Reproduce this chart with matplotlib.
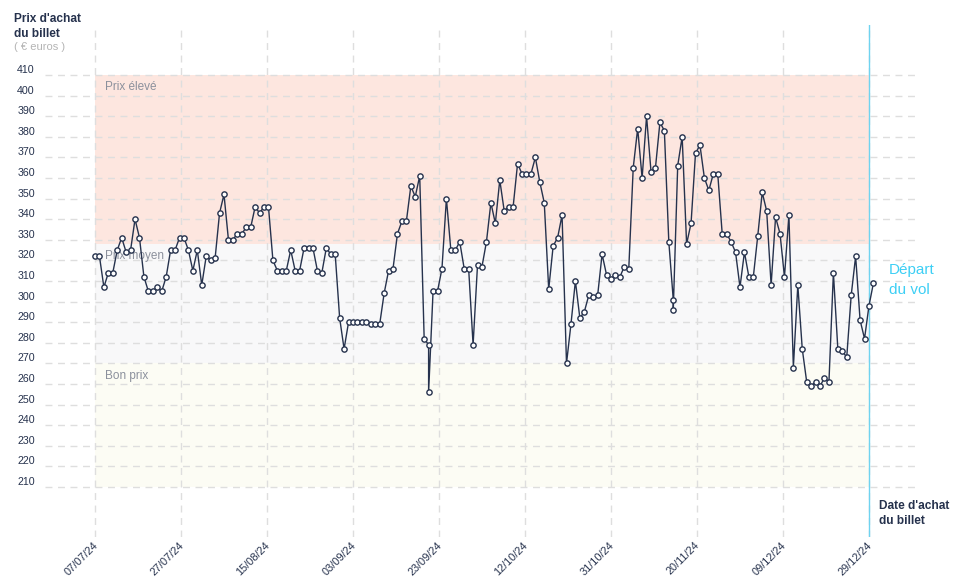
import matplotlib
matplotlib.use("Agg")
import matplotlib.pyplot as plt

plt.rcParams['font.family'] = ['Liberation Sans', 'DejaVu Sans']

# daily ticket prices (EUR); two days have two quotes each
prices = [322, 322, 307, 314, 314, 325, 331, 324, 325, 340,
          331, 312, 305, 305, 307, 305, 312, 325, 325, 331,
          331, 325, 315, 325, 308, 322, 320, 321, 343, 352,
          330, 330, 333, 333, 336, 336, 346, 343, 346, 346,
          320, 315, 315, 315, 325, 315, 315, 326, 326, 326,
          315, 314, 326, 323, 323, 292, 277, 290, 290, 290,
          290, 290, 289, 289, 289, 304, 315, 316, 333, 339,
          339, 356, 351, 361, 282, 279, 256, 305, 305, 316,
          350, 325, 325, 329, 316, 316, 279, 318, 317, 329,
          348, 338, 359, 344, 346, 346, 367, 362, 362, 362,
          370, 358, 348, 306, 327, 331, 342, 270, 289, 310,
          292, 295, 303, 302, 303, 323, 313, 311, 313, 312,
          317, 316, 365, 384, 360, 390, 363, 365, 387, 383,
          329, 301, 296, 366, 380, 328, 338, 372, 376, 360,
          354, 362, 362, 333, 333, 329, 324, 307, 324, 312,
          312, 332, 353, 344, 308, 341, 333, 312, 342, 268,
          308, 277, 261, 259, 261, 259, 263, 261, 314, 277,
          276, 273, 303, 322, 291, 282, 298, 309]
# day offset from 07/07/24 for each quote
days = list(range(0, 76)) + [75] + list(range(76, 131)) + [130] + list(range(131, 176))

tick_days = [0, 19.33, 38.67, 58, 77.33, 96.67, 116, 135.33, 154.67, 174]
tick_labels = ["07/07/24", "27/07/24", "15/08/24", "03/09/24", "23/09/24",
               "12/10/24", "31/10/24", "20/11/24", "09/12/24", "29/12/24"]
y_ticks = list(range(210, 411, 10))

bands = [(328, 410, '#fde6df', "Prix élevé"),
         (270, 328, '#f8f8f9', "Prix moyen"),
         (210, 270, '#fcfcf4', "Bon prix")]

navy = '#26324d'

fig = plt.figure(figsize=(9.58, 5.85), dpi=100)
ax = fig.add_axes([45 / 958, 1 - 537 / 585, 875 / 958, 512 / 585])
ax.set_xlim(-11.24, 185.47)
ax.set_ylim(185.7, 434.3)
ax.axis('off')

for lo, hi, col, name in bands:
    ax.fill_between([0, 174], lo, hi, color=col, lw=0, zorder=0)
    ax.text(2.3, hi - 6, name, color='#8b909c', fontsize=8.5, va='center', ha='left', zorder=2)

for v in y_ticks:
    ax.axhline(v, color='#dedede', lw=1, ls=(0, (5, 4)), zorder=1)
    ax.text(-17.5, v + 2.4, str(v), color=navy, fontsize=7.7, ha='left', va='center', clip_on=False)

for t, lab in zip(tick_days, tick_labels):
    ax.axvline(t, color='#dedede', lw=1, ls=(0, (5, 4)), zorder=1)
    ax.text(t + 0.3, 182.5, lab, rotation=45, rotation_mode='anchor', ha='right', va='center',
            color=navy, fontsize=7.9, clip_on=False)

ax.axvline(174, color='#6fd3f0', lw=1, zorder=2)

ax.plot(days, prices, color=navy, lw=1, marker='o', markersize=3.8,
        markerfacecolor='white', markeredgecolor=navy, markeredgewidth=1, zorder=3, clip_on=False)

fig.text(14 / 958, 1 - 19 / 585, "Prix d'achat", fontsize=8.6, fontweight='bold', color=navy, va='center')
fig.text(14 / 958, 1 - 34 / 585, "du billet", fontsize=8.6, fontweight='bold', color=navy, va='center')
fig.text(14 / 958, 1 - 47 / 585, "( € euros )", fontsize=8, color='#b4b4b4', va='center')

fig.text(879 / 958, 1 - 506 / 585, "Date d'achat", fontsize=8.6, fontweight='bold', color=navy, va='center')
fig.text(879 / 958, 1 - 521 / 585, "du billet", fontsize=8.6, fontweight='bold', color=navy, va='center')

fig.text(889 / 958, 1 - 270 / 585, "Départ", fontsize=11, color='#3dcff5', va='center')
fig.text(889 / 958, 1 - 290 / 585, "du vol", fontsize=11, color='#3dcff5', va='center')

fig.savefig("out.png", dpi=100)
